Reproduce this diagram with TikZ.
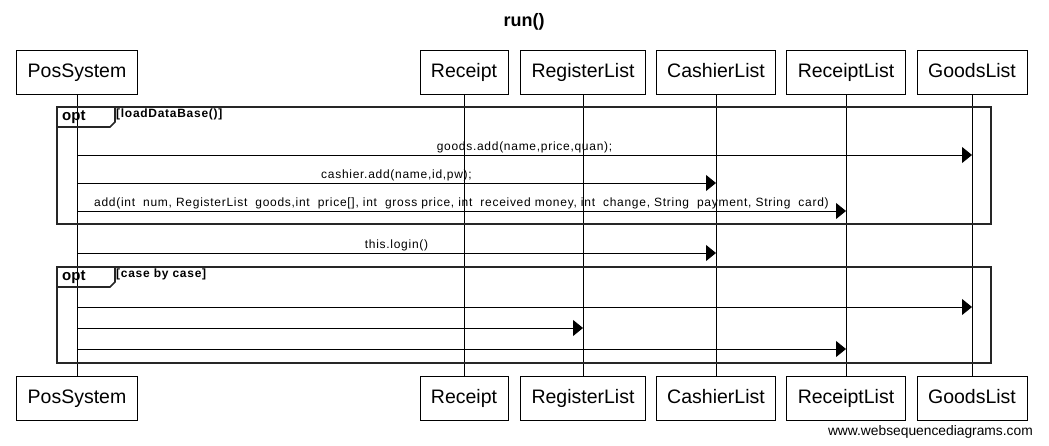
\documentclass[tikz,border=0pt]{standalone}
\usepackage{fontspec}
\setmainfont{Liberation Sans}
\newfontfamily\msgfont[LetterSpace=6]{Liberation Sans}
\usetikzlibrary{arrows.meta}

\begin{document}
\begin{tikzpicture}[x=1pt,y=-1pt,
  actor/.style={draw,line width=0.8pt,minimum height=44pt,text height=14pt,text depth=4pt,inner xsep=11pt,font=\fontsize{19.5}{21}\selectfont},
  msg/.style={line width=0.8pt,-{Triangle[length=10pt,width=16pt]}},
  lbl/.style={above,midway,inner sep=1.5pt,font=\msgfont\fontsize{12}{13}\selectfont},
  optframe/.style={draw=black!85,line width=1.6pt},
  cond/.style={anchor=north west,inner sep=0pt,font=\msgfont\bfseries\fontsize{12}{13}\selectfont}]
\useasboundingbox (0,0) rectangle (1049,445);

\node [font=\bfseries\fontsize{18}{20}\selectfont] (title) at (524,22) {run()};

% heads
\node [actor] (ps) at (77,72) {PosSystem};
\node [actor] (rc) at (464,72) {Receipt};
\node [actor] (rg) at (583,72) {RegisterList};
\node [actor] (cl) at (716,72) {CashierList};
\node [actor] (rl) at (846,72) {ReceiptList};
\node [actor] (gl) at (972,72) {GoodsList};

% feet
\node [actor] (ps2) at (77,398) {PosSystem};
\node [actor] (rc2) at (464,398) {Receipt};
\node [actor] (rg2) at (583,398) {RegisterList};
\node [actor] (cl2) at (716,398) {CashierList};
\node [actor] (rl2) at (846,398) {ReceiptList};
\node [actor] (gl2) at (972,398) {GoodsList};

% lifelines
\foreach \a in {ps,rc,rg,cl,rl,gl}
  \draw [line width=0.8pt] (\a.south) -- (\a2.north);

% first opt
\draw [optframe] (57,107) rectangle (991,224);
\draw [optframe] (57,127) -- (110,127) -- (115,122) -- (115,107);
\node [anchor=west,inner sep=0pt,font=\bfseries\fontsize{15}{16}\selectfont] (opt1) at (62,117) {opt};
\node [cond] (c1) at (116,109) {[loadDataBase()]};

\draw [msg] (ps |- 0,155) -- node [lbl] {goods.add(name,price,quan);} (gl |- 0,155);
\draw [msg] (ps |- 0,183) -- node [lbl] {cashier.add(name,id,pw);} (cl |- 0,183);
\draw [msg] (ps |- 0,211) -- node [lbl] {add(int\hspace{8pt}num, RegisterList\hspace{8pt}goods,int\hspace{8pt}price[], int\hspace{8pt}gross price, int\hspace{8pt}received money, int\hspace{8pt}change, String\hspace{8pt}payment, String\hspace{8pt}card)} (rl |- 0,211);

\draw [msg] (ps |- 0,253) -- node [lbl] {this.login()} (cl |- 0,253);

% second opt
\draw [optframe] (57,267) rectangle (991,363);
\draw [optframe] (57,287) -- (110,287) -- (115,282) -- (115,267);
\node [anchor=west,inner sep=0pt,font=\bfseries\fontsize{15}{16}\selectfont] (opt2) at (62,277) {opt};
\node [cond] (c2) at (116,269) {[case by case]};

\draw [msg] (ps |- 0,307) -- (gl |- 0,307);
\draw [msg] (ps |- 0,328) -- (rg |- 0,328);
\draw [msg] (ps |- 0,349) -- (rl |- 0,349);

\node [anchor=base east,inner sep=0pt,font=\fontsize{13.8}{15}\selectfont] (wm) at (1033,435) {www.websequencediagrams.com};
\end{tikzpicture}
\end{document}
